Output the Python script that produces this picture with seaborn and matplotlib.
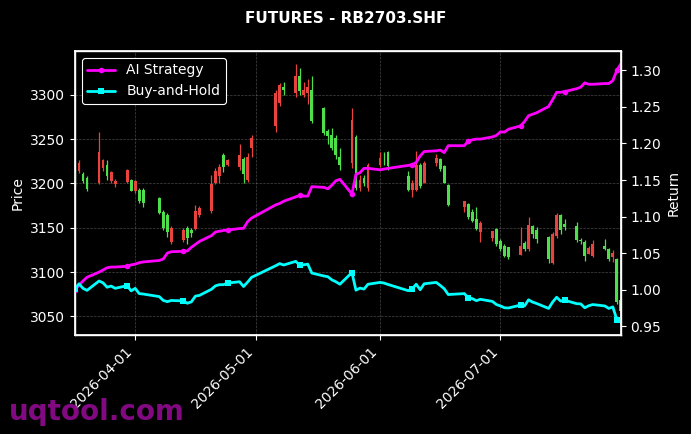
import matplotlib
matplotlib.use("Agg")
import matplotlib.pyplot as plt
import matplotlib.dates as mdates
import seaborn as sns
import pandas as pd

dates = [
    "2026-03-17", "2026-03-18", "2026-03-19", "2026-03-20", "2026-03-23", "2026-03-24",
    "2026-03-25", "2026-03-26", "2026-03-27", "2026-03-30", "2026-03-31",
    "2026-04-01", "2026-04-02", "2026-04-03", "2026-04-07", "2026-04-08", "2026-04-09",
    "2026-04-10", "2026-04-13", "2026-04-14", "2026-04-15", "2026-04-16", "2026-04-17",
    "2026-04-20", "2026-04-21", "2026-04-22", "2026-04-23", "2026-04-24", "2026-04-27",
    "2026-04-28", "2026-04-29", "2026-04-30",
    "2026-05-06", "2026-05-07", "2026-05-08", "2026-05-11", "2026-05-12", "2026-05-13",
    "2026-05-14", "2026-05-15", "2026-05-18", "2026-05-19", "2026-05-20", "2026-05-21",
    "2026-05-22", "2026-05-25", "2026-05-26", "2026-05-27", "2026-05-28", "2026-05-29",
    "2026-06-01", "2026-06-02", "2026-06-03", "2026-06-08", "2026-06-09", "2026-06-10",
    "2026-06-11", "2026-06-12", "2026-06-15", "2026-06-16", "2026-06-17", "2026-06-18",
    "2026-06-22", "2026-06-23", "2026-06-24", "2026-06-25", "2026-06-26", "2026-06-29",
    "2026-06-30",
    "2026-07-01", "2026-07-02", "2026-07-03", "2026-07-06", "2026-07-07", "2026-07-08",
    "2026-07-09", "2026-07-10", "2026-07-13", "2026-07-14", "2026-07-15", "2026-07-16",
    "2026-07-17", "2026-07-20", "2026-07-21", "2026-07-22", "2026-07-23", "2026-07-24",
    "2026-07-27", "2026-07-28", "2026-07-29", "2026-07-30", "2026-07-31",
]

opens = [
    3213, 3214, 3211, 3206, 3200, 3218, 3221, 3203, 3199, 3202, 3204,
    3191, 3193, 3193, 3184, 3168, 3165, 3134, 3136, 3150, 3147, 3149, 3164,
    3169, 3200, 3209, 3232, 3221, 3219, 3228, 3204, 3240,
    3265, 3291, 3309, 3302, 3321, 3300, 3302, 3306, 3285, 3259, 3255, 3251,
    3230, 3223, 3253, 3195, 3206, 3195,
    3221, 3227, 3236, 3208, 3193, 3193, 3221, 3201, 3223, 3228, 3220, 3198,
    3173, 3177, 3168, 3160, 3145, 3139, 3149,
    3135, 3130, 3128, 3119, 3133, 3126, 3152, 3147, 3140, 3110, 3141, 3164,
    3154, 3152, 3136, 3134, 3120, 3118, 3129, 3126, 3117, 3115, 3068,
]
highs = [
    3216, 3226, 3213, 3208, 3258, 3228, 3227, 3214, 3205, 3216, 3205,
    3204, 3195, 3195, 3185, 3170, 3167, 3152, 3150, 3152, 3150, 3176, 3175,
    3210, 3218, 3222, 3234, 3228, 3245, 3230, 3234, 3255,
    3306, 3313, 3315, 3335, 3330, 3315, 3318, 3321, 3286, 3261, 3263, 3255,
    3240, 3285, 3255, 3210, 3210, 3223,
    3235, 3236, 3237, 3214, 3204, 3237, 3223, 3225, 3233, 3229, 3221, 3199,
    3180, 3178, 3171, 3174, 3158, 3146, 3150,
    3137, 3132, 3128, 3151, 3135, 3162, 3153, 3151, 3141, 3145, 3167, 3166,
    3160, 3156, 3139, 3136, 3130, 3136, 3137, 3127, 3125, 3116, 3070,
]
lows = [
    3197, 3212, 3200, 3192, 3199, 3214, 3204, 3201, 3196, 3201, 3191,
    3189, 3178, 3173, 3166, 3148, 3140, 3132, 3134, 3132, 3140, 3148, 3162,
    3167, 3199, 3201, 3213, 3220, 3215, 3200, 3202, 3230,
    3258, 3287, 3300, 3298, 3300, 3298, 3290, 3268, 3255, 3245, 3238, 3228,
    3215, 3217, 3193, 3191, 3197, 3191,
    3219, 3221, 3215, 3192, 3185, 3191, 3195, 3200, 3220, 3214, 3200, 3175,
    3168, 3160, 3157, 3147, 3134, 3135, 3130,
    3124, 3117, 3115, 3119, 3124, 3124, 3139, 3133, 3110, 3109, 3139, 3143,
    3148, 3134, 3132, 3113, 3120, 3117, 3125, 3113, 3111, 3064, 3050,
]
closes = [
    3201, 3223, 3203, 3194, 3235, 3227, 3208, 3213, 3203, 3215, 3192,
    3203, 3180, 3178, 3167, 3150, 3145, 3150, 3148, 3138, 3144, 3169, 3172,
    3199, 3214, 3219, 3219, 3226, 3232, 3211, 3230, 3251,
    3302, 3311, 3305, 3321, 3304, 3306, 3309, 3270, 3257, 3254, 3240, 3232,
    3221, 3272, 3195, 3204, 3200, 3221,
    3229, 3226, 3220, 3193, 3200, 3221, 3197, 3223, 3229, 3216, 3201, 3176,
    3180, 3162, 3158, 3149, 3155, 3146, 3132,
    3126, 3118, 3117, 3130, 3126, 3153, 3143, 3137, 3115, 3143, 3164, 3147,
    3151, 3136, 3135, 3118, 3127, 3132, 3126, 3115, 3122, 3066, 3056,
]

ai_strategy = [
    1.000, 1.006, 1.012, 1.017, 1.024, 1.027, 1.030, 1.031, 1.031, 1.032, 1.034,
    1.035, 1.037, 1.038, 1.040, 1.042, 1.050, 1.052, 1.0525, 1.053, 1.058, 1.062, 1.066,
    1.074, 1.079, 1.080, 1.081, 1.0815, 1.0837, 1.084, 1.093, 1.098,
    1.116, 1.118, 1.121, 1.127, 1.129, 1.128, 1.128, 1.141, 1.140, 1.138, 1.143, 1.149,
    1.151, 1.131, 1.158, 1.160, 1.166, 1.166,
    1.164, 1.165, 1.166, 1.170, 1.171, 1.174, 1.183, 1.189, 1.190, 1.191, 1.1875, 1.197,
    1.197, 1.2035, 1.205, 1.206, 1.206, 1.209, 1.211,
    1.216, 1.2155, 1.2195, 1.224, 1.230, 1.238, 1.240, 1.242, 1.2506, 1.260, 1.270, 1.270,
    1.271, 1.275, 1.277, 1.283, 1.281, 1.281, 1.282, 1.282, 1.286, 1.300, 1.309,
]
buy_and_hold = [
    1.0013, 1.0081, 1.0019, 0.9991, 1.0119, 1.0094, 1.0034, 1.0050, 1.0019, 1.0056, 0.9984,
    1.0019, 0.9947, 0.9941, 0.9906, 0.9853, 0.9837, 0.9853, 0.9847, 0.9815, 0.9834, 0.9912, 0.9922,
    1.0006, 1.0053, 1.0069, 1.0069, 1.0091, 1.0109, 1.0044, 1.0103, 1.0169,
    1.0328, 1.0357, 1.0338, 1.0388, 1.0335, 1.0341, 1.0350, 1.0228, 1.0188, 1.0178, 1.0135, 1.0109,
    1.0075, 1.0235, 0.9994, 1.0022, 1.0009, 1.0075,
    1.0100, 1.0091, 1.0072, 0.9987, 1.0009, 1.0075, 1.0000, 1.0081, 1.0100, 1.0059, 1.0013, 0.9934,
    0.9947, 0.9891, 0.9878, 0.9850, 0.9869, 0.9840, 0.9797,
    0.9778, 0.9753, 0.9750, 0.9790, 0.9778, 0.9862, 0.9831, 0.9812, 0.9744, 0.9831, 0.9897, 0.9844,
    0.9856, 0.9809, 0.9806, 0.9753, 0.9781, 0.9797, 0.9778, 0.9744, 0.9765, 0.9590, 0.9559,
]

title_text = "FUTURES - RB2703.SHF"
watermark = "uqtool.com"

sns.set_theme(style="dark", rc={
    "figure.facecolor": "black",
    "axes.facecolor": "black",
    "axes.edgecolor": "white",
    "axes.labelcolor": "white",
    "xtick.color": "white",
    "ytick.color": "white",
    "text.color": "white",
    "xtick.bottom": True,
    "ytick.left": True,
    "ytick.right": True,
})
plt.rcParams["font.family"] = ["DejaVu Sans"]

df = pd.DataFrame({
    "date": pd.to_datetime(dates),
    "open": opens, "high": highs, "low": lows, "close": closes,
    "AI Strategy": ai_strategy, "Buy-and-Hold": buy_and_hold,
})

fig = plt.figure(figsize=(6.91, 4.34), dpi=100, facecolor="black")
ax = fig.add_axes([0.1085, 0.228, 0.790, 0.6545])
ax.set_facecolor("black")

up_col = "#e8433f"
dn_col = "#4ee04a"
cols = [up_col if c >= o else dn_col for o, c in zip(df["open"], df["close"])]
bottoms = [min(o, c) for o, c in zip(df["open"], df["close"])]
heights = [max(abs(c - o), 0.8) for o, c in zip(df["open"], df["close"])]

ax.vlines(df["date"], df["low"], df["high"], colors=cols, linewidth=0.9, zorder=2)
ax.bar(df["date"], heights, bottom=bottoms, width=0.7, color=cols, zorder=3, linewidth=0)

ax.set_ylim(3029, 3349.5)
ax.set_xlim(df["date"].iloc[0], df["date"].iloc[-1])
ax.set_ylabel("Price", color="white", fontsize=10)
ax.grid(True, color="#777777", linestyle="--", linewidth=0.5, alpha=0.6)
ax.xaxis.set_major_locator(mdates.MonthLocator())
ax.xaxis.set_major_formatter(mdates.DateFormatter("%Y-%m-%d"))
for lbl in ax.get_xticklabels():
    lbl.set_rotation(45)
    lbl.set_ha("right")
ax.tick_params(axis="both", colors="white", labelsize=10, length=3.5, width=0.8)
for sp in ax.spines.values():
    sp.set_color("white")
    sp.set_linewidth(1)

ax2 = ax.twinx()
sns.lineplot(data=df, x="date", y="AI Strategy", ax=ax2, color="#ff00ff", linewidth=2,
             marker="o", markersize=4, markevery=9, markeredgewidth=0, label="AI Strategy")
sns.lineplot(data=df, x="date", y="Buy-and-Hold", ax=ax2, color="#00ffff", linewidth=2,
             marker="s", markersize=4, markevery=9, markeredgewidth=0, label="Buy-and-Hold")
ax2.set_ylim(0.938, 1.3265)
ax2.set_ylabel("Return", color="white", fontsize=10)
ax2.set_xlabel("")
ax2.grid(False)
ax2.tick_params(axis="y", colors="white", labelsize=10, length=3.5, width=0.8)
for sp in ax2.spines.values():
    sp.set_color("white")
ax2.set_xlim(df["date"].iloc[0], df["date"].iloc[-1])
ax.set_xlabel("")

leg = ax2.legend(loc="upper left", facecolor="black", edgecolor="white",
                 labelcolor="white", fontsize=10, framealpha=1)
leg.get_frame().set_linewidth(0.8)

fig.suptitle(title_text, color="white", fontweight="bold", fontsize=11, y=0.975)
fig.text(0.013, 0.032, watermark, color="#8a0a8a", fontsize=20, fontweight="bold", alpha=0.95)

fig.savefig("out.png", dpi=100, facecolor="black")
